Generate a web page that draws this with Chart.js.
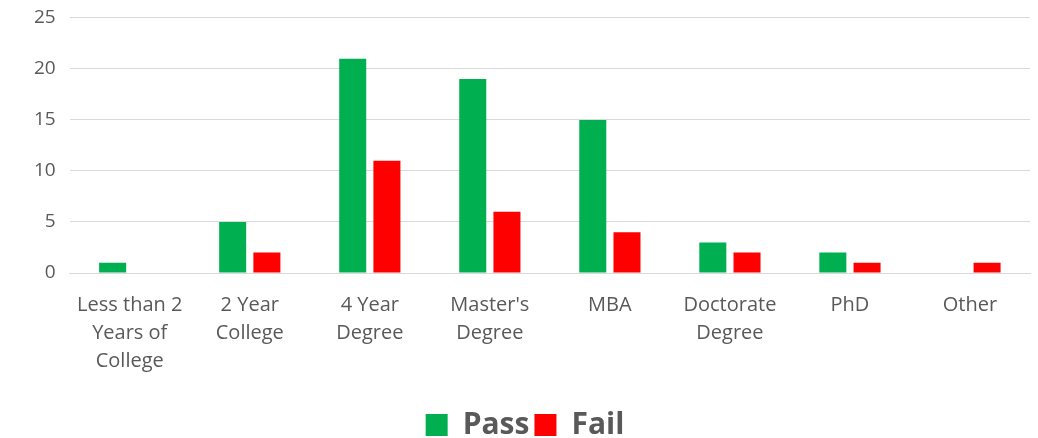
<!DOCTYPE html>
<html lang="en">
<head>
  <meta charset="UTF-8">
  <title>Pass / Fail by Education</title>
  <script src="https://cdn.jsdelivr.net/npm/chart.js"></script>
  <style>
    html, body { margin: 0; padding: 0; background: #ffffff; }
    #wrap { width: 1038px; height: 438px; }
  </style>
</head>
<body>
  <div id="wrap"><canvas id="chart" width="1038" height="438"></canvas></div>
  <script>
    const categories = [
      ['Less than 2', 'Years of', 'College'],
      ['2 Year', 'College'],
      ['4 Year', 'Degree'],
      ["Master's", 'Degree'],
      'MBA',
      ['Doctorate', 'Degree'],
      'PhD',
      'Other'
    ];
    const passValues = [1, 5, 21, 19, 15, 3, 2, 0];
    const failValues = [0, 2, 11, 6, 4, 2, 1, 1];
    const yTicks = [0, 5, 10, 15, 20, 25];

    const textColor = '#595959';
    const fontFamily = "'Open Sans', 'Liberation Sans', sans-serif";

    // nudge the legend down a little, like the Excel original
    const legendOffset = {
      id: 'legendOffset',
      afterLayout(chart) {
        chart.legend.top += 12;
        chart.legend.bottom += 12;
      }
    };

    new Chart(document.getElementById('chart'), {
      type: 'bar',
      data: {
        labels: categories,
        datasets: [
          { label: 'Pass', data: passValues, backgroundColor: '#00B050' },
          { label: 'Fail', data: failValues, backgroundColor: '#FF0000' }
        ]
      },
      options: {
        responsive: false,
        animation: false,
        layout: { padding: { left: 20, right: 8, top: 4, bottom: 0 } },
        datasets: {
          bar: { categoryPercentage: 0.57, barPercentage: 0.79 }
        },
        plugins: {
          legend: {
            position: 'bottom',
            labels: {
              color: textColor,
              font: { family: fontFamily, size: 30, weight: 'bold', lineHeight: 1.0 },
              boxWidth: 22,
              boxHeight: 22,
              padding: 5
            }
          },
          tooltip: { enabled: false }
        },
        scales: {
          x: {
            grid: { display: false },
            border: { color: '#d9d9d9' },
            afterFit: scale => { scale.height += 8; },
            ticks: {
              color: textColor,
              font: { family: fontFamily, size: 20, lineHeight: 1.4 },
              padding: 10,
              maxRotation: 0,
              autoSkip: false
            }
          },
          y: {
            min: 0,
            max: 25,
            afterBuildTicks: axis => { axis.ticks = yTicks.map(v => ({ value: v })); },
            grid: { color: '#d9d9d9', drawTicks: false },
            border: { display: false },
            ticks: {
              color: textColor,
              font: { family: fontFamily, size: 19, lineHeight: 0.4 },
              padding: 14
            }
          }
        }
      },
      plugins: [legendOffset]
    });
  </script>
</body>
</html>
